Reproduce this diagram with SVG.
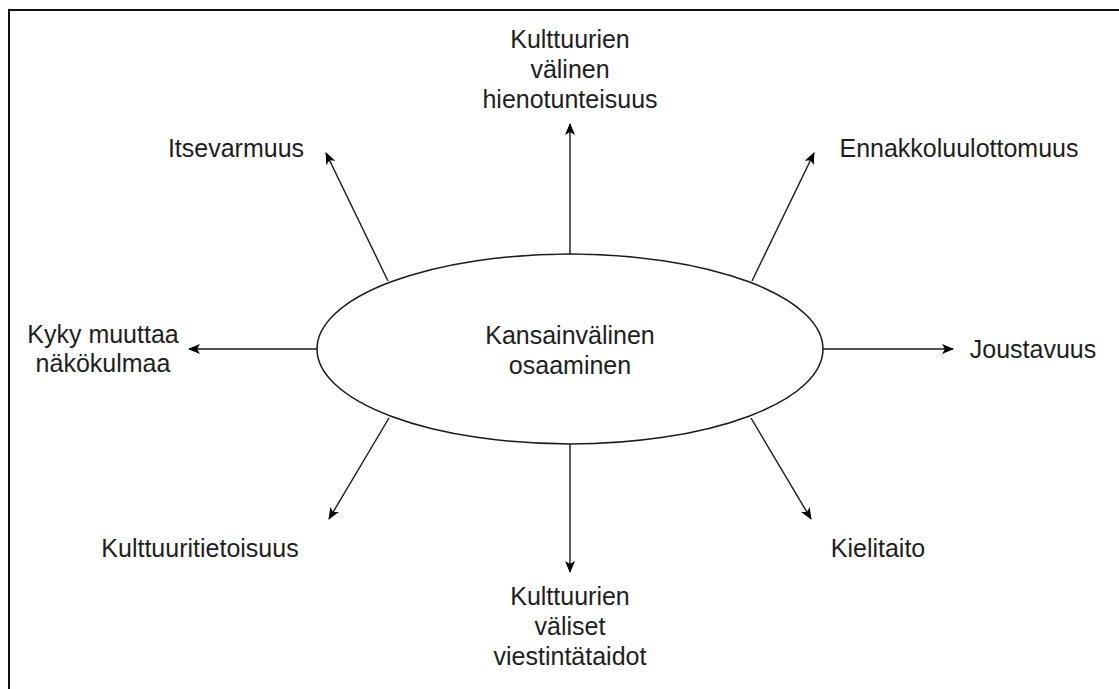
<svg xmlns="http://www.w3.org/2000/svg" width="1119" height="689" viewBox="0 0 1119 689">
  <style>
    .lbl { font-family: "Liberation Sans", Arial, sans-serif; font-size: 25px; fill: #1e1e1e; text-anchor: middle; }
    .edge { stroke: #1a1a1a; stroke-width: 1.4; fill: none; marker-end: url(#head); }
  </style>
  <defs>
    <marker id="head" viewBox="0 0 12 10" refX="11" refY="5" markerWidth="12" markerHeight="10" markerUnits="userSpaceOnUse" orient="auto">
      <path d="M0,0 L12,5 L0,10 L3,5 z" fill="#000"/>
    </marker>
  </defs>

  <rect x="0" y="0" width="1119" height="689" fill="#fff"/>
  <!-- outer frame, right and bottom sides run past the canvas -->
  <rect x="9" y="10" width="1130" height="700" fill="none" stroke="#111" stroke-width="2"/>

  <g id="connectors">
    <line class="edge" x1="570" y1="254" x2="570" y2="124"/>
    <line class="edge" x1="388" y1="281" x2="326" y2="153"/>
    <line class="edge" x1="752" y1="281" x2="814" y2="153"/>
    <line class="edge" x1="317" y1="349" x2="189" y2="349"/>
    <line class="edge" x1="823" y1="349" x2="953" y2="349"/>
    <line class="edge" x1="389" y1="418" x2="329" y2="519"/>
    <line class="edge" x1="751" y1="418" x2="811" y2="519"/>
    <line class="edge" x1="570" y1="444" x2="570" y2="572"/>
  </g>

  <g id="center">
    <ellipse cx="570" cy="349" rx="253" ry="95" fill="#fff" stroke="#1a1a1a" stroke-width="1.5"/>
    <text class="lbl" x="570" y="344">Kansainvälinen</text>
    <text class="lbl" x="570" y="374">osaaminen</text>
  </g>

  <g id="n-hienotunteisuus">
    <text class="lbl" x="570" y="48">Kulttuurien</text>
    <text class="lbl" x="570" y="78">välinen</text>
    <text class="lbl" x="570" y="108">hienotunteisuus</text>
  </g>
  <g id="n-itsevarmuus">
    <text class="lbl" x="236" y="157">Itsevarmuus</text>
  </g>
  <g id="n-ennakkoluulottomuus">
    <text class="lbl" x="959" y="157">Ennakkoluulottomuus</text>
  </g>
  <g id="n-nakokulma">
    <text class="lbl" x="103" y="343">Kyky muuttaa</text>
    <text class="lbl" x="103" y="372">näkökulmaa</text>
  </g>
  <g id="n-joustavuus">
    <text class="lbl" x="1033" y="358">Joustavuus</text>
  </g>
  <g id="n-kulttuuritietoisuus">
    <text class="lbl" x="200" y="557">Kulttuuritietoisuus</text>
  </g>
  <g id="n-kielitaito">
    <text class="lbl" x="878" y="557">Kielitaito</text>
  </g>
  <g id="n-viestintataidot">
    <text class="lbl" x="570" y="605">Kulttuurien</text>
    <text class="lbl" x="570" y="635">väliset</text>
    <text class="lbl" x="570" y="665">viestintätaidot</text>
  </g>
</svg>
